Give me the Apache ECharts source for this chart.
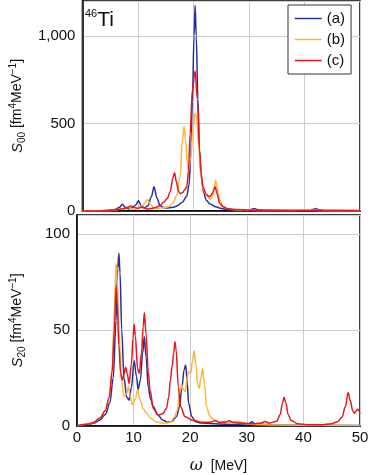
<!DOCTYPE html>
<html>
<head>
<meta charset="utf-8">
<script src="https://cdn.jsdelivr.net/npm/echarts@6/dist/echarts.min.js"></script>
<style>
  html, body { margin: 0; padding: 0; background: #fff; }
  #chart { width: 374px; height: 475px; }
</style>
</head>
<body>
<div id="chart"></div>
<script>
// omega [MeV], S00 [fm^4 MeV^-1]
var s00_a = [[0,0],[3,1],[5,4],[6,10],[6.7,22],[7.2,38],[7.7,22],[8.3,12],[9,18],[9.6,35],[10.1,58],[10.6,30],[11.2,18],[11.8,30],[12.4,80],[12.9,138],[13.4,75],[14,30],[14.8,18],[15.5,17],[16.4,22],[17.2,32],[18,50],[18.8,85],[19.2,150],[19.5,300],[19.8,620],[20.1,1000],[20.3,1175],[20.5,1000],[20.8,640],[21.1,340],[21.4,195],[21.8,110],[22.3,62],[23,40],[24,24],[25,14],[26,9],[28,5],[30,5],[30.5,10],[30.9,15],[31.4,8],[33,4],[36,3],[40,4],[41.5,8],[42,14],[42.5,7],[44,3],[50,2]];
var s00_b = [[0,0],[4,1],[6,6],[7,14],[7.6,12],[8.2,22],[8.8,12],[9.5,10],[10.2,20],[10.8,30],[11.3,48],[11.7,66],[12.2,40],[12.8,20],[13.5,15],[14.5,18],[15.5,25],[16.3,45],[17,90],[17.6,200],[18,400],[18.3,483],[18.6,400],[18.9,270],[19.1,235],[19.5,300],[19.9,470],[20.3,560],[20.6,530],[20.9,380],[21.3,210],[21.8,120],[22.4,85],[23,68],[23.4,80],[23.7,130],[24,176],[24.3,130],[24.7,65],[25.3,30],[26,15],[27,9],[28.5,6],[29.1,9],[29.6,5],[32,3],[38,3],[40.3,6],[40.8,10],[41.3,5],[44,2],[50,2]];
var s00_c = [[0,0],[4,2],[6,6],[7,12],[7.5,15],[8.2,22],[8.8,28],[9.4,20],[10,15],[10.5,22],[11,18],[11.6,12],[12.4,14],[13.2,20],[14,32],[14.6,50],[15.3,72],[15.8,110],[16.3,190],[16.6,218],[16.9,170],[17.3,115],[17.6,100],[18,105],[18.4,120],[18.8,138],[19.1,230],[19.4,442],[19.8,690],[20.3,800],[20.7,640],[21.1,346],[21.4,210],[21.7,138],[22.3,95],[22.9,81],[23.4,100],[23.9,138],[24.3,95],[24.7,45],[25.3,25],[26,15],[27,10],[28,8],[30,5],[35,4],[40,3],[45,3],[50,3]];

// omega [MeV], S20 [fm^4 MeV^-1]
var s20_a = [[0,0],[2,0.8],[3,1.5],[4,3],[5,6],[5.8,12],[6.4,25],[6.9,55],[7.2,82],[7.4,90],[7.6,80],[7.9,50],[8.3,25],[8.8,15],[9.2,13.5],[9.6,20],[10.1,34],[10.5,26],[10.8,19],[11.2,24],[11.6,38],[11.9,46.5],[12.2,36],[12.6,20],[13,14],[13.5,10],[14.2,6],[15.2,3],[16,2],[16.8,2.5],[17.6,5],[18.1,10],[18.5,19],[18.9,29],[19.2,31.8],[19.5,22],[19.7,12],[20.3,4.8],[21,2.2],[22,1.5],[25,1],[28,0.8],[30.3,1.2],[30.9,2.2],[31.5,1],[35,0.5],[50,0.3]];
var s20_b = [[0,0],[2,1],[3,2],[4,4],[5,8],[5.7,15],[6.2,30],[6.6,60],[6.9,84.8],[7.1,78],[7.4,50],[7.8,25],[8.3,15.3],[8.8,17],[9.1,20.8],[9.4,15],[9.8,11],[10.3,14],[10.7,18.8],[11.1,14],[11.7,9],[12.3,6.8],[13,4],[14,2.2],[15,1.5],[16,1.5],[16.6,2.2],[17.2,4.5],[17.7,8],[18.2,18],[18.5,21.4],[18.8,19],[19.1,18],[19.5,26],[19.7,28.3],[20.1,27.6],[20.4,34],[20.7,39.2],[21,32],[21.3,22],[21.6,19.6],[21.9,25],[22.2,30],[22.5,22],[22.9,10],[23.4,5.5],[23.8,4],[24.5,3],[25,2],[26,2.5],[27,1.8],[28.5,2.5],[29.5,1.5],[31,0.8],[35,0.5],[50,0.3]];
var s20_c = [[0,0],[2,1],[3,2],[4,4],[5,8],[5.7,15],[6.2,28],[6.6,50],[6.9,73],[7.1,65],[7.4,42],[7.7,28],[8,24],[8.3,27],[8.6,30.6],[8.9,27],[9.2,22.2],[9.6,32],[9.9,46],[10.1,53],[10.3,47],[10.7,30],[11,27.4],[11.4,38],[11.7,52],[11.9,59],[12.2,48],[12.6,28],[12.9,18.8],[13.5,9],[14.4,5.7],[15.2,6.5],[15.8,9.2],[16.2,15],[16.5,24],[16.8,31],[17.1,38],[17.3,43.9],[17.5,40],[17.9,20.5],[18.3,10],[19.1,4.8],[20.5,3],[22,2],[23.5,2],[24.4,2.8],[25.2,1.8],[26.2,2],[26.9,2.8],[27.6,1.8],[29,1.5],[31,1.2],[32.5,1.5],[33.2,2.4],[34,1.5],[35.3,2.5],[35.9,6],[36.3,12],[36.6,15],[36.9,12],[37.3,6],[37.8,3],[39,1.2],[41,0.6],[43,0.6],[45,1.2],[46,2.2],[46.8,4.5],[47.4,10],[47.9,17.4],[48.3,13],[48.7,8],[49,6.6],[49.3,7.8],[49.6,8.7],[50,6.5]];

var seriesNames = ['(a)', '(b)', '(c)'];
var colors = ['#2b2f98', '#fdb43c', '#e8161f'];
var xTicks = [0, 10, 20, 30, 40, 50];

var chart = echarts.init(document.getElementById('chart'));

var fontFam = 'Liberation Sans';
var gridLine = { show: true, lineStyle: { color: '#cccccc', width: 1 } };
var frameLine = { show: true, onZero: false, lineStyle: { color: '#000', width: 1.5 } };

function yName(sub) {
    return '{s|S}{sub|' + sub + '} [fm{sup|4}MeV{sup|\u22121}]';
}
var nameRich = {
    s: { fontSize: 15, fontStyle: 'italic', fontFamily: fontFam, color: '#111' },
    sub: { fontSize: 10, fontFamily: fontFam, color: '#111', verticalAlign: 'bottom', lineHeight: 19 },
    sup: { fontSize: 10, fontFamily: fontFam, color: '#111', verticalAlign: 'top', lineHeight: 19 }
};

function makeSeries(data, i, axisIdx) {
    return {
        name: seriesNames[i],
        type: 'line',
        xAxisIndex: axisIdx,
        yAxisIndex: axisIdx,
        data: data,
        symbol: 'none',
        smooth: 0.35,
        smoothMonotone: 'x',
        lineStyle: { color: colors[i], width: 1.5 },
        itemStyle: { color: colors[i] },
        silent: true
    };
}

var option = {
    animation: false,
    backgroundColor: '#fff',
    textStyle: { fontFamily: fontFam },
    grid: [
        { left: 77, right: 14, top: 1, height: 210, show: true, borderColor: '#000', borderWidth: 1.5 },
        { left: 77, right: 14, top: 215, height: 211, show: true, borderColor: '#000', borderWidth: 1.5 }
    ],
    legend: {
        data: seriesNames,
        orient: 'vertical',
        left: 288,
        top: 5,
        padding: [6, 6, 6, 6],
        itemGap: 6,
        itemWidth: 27,
        itemHeight: 14,
        itemStyle: { opacity: 0 },
        lineStyle: { width: 1.5 },
        backgroundColor: '#fff',
        borderColor: '#333',
        borderWidth: 1,
        borderRadius: 0,
        textStyle: { fontSize: 15, color: '#111', fontFamily: fontFam }
    },
    graphic: [{
        type: 'text',
        left: 85,
        top: 8,
        style: {
            text: '{sup|46}{m|Ti}',
            rich: {
                sup: { fontSize: 11, fontFamily: fontFam, fill: '#111', verticalAlign: 'top', lineHeight: 24 },
                m: { fontSize: 21, fontFamily: fontFam, fill: '#111', lineHeight: 24 }
            }
        }
    }],
    xAxis: [
        {
            type: 'value', gridIndex: 0, min: 0, max: 50, interval: 10,
            axisLine: frameLine, axisTick: { show: false },
            axisLabel: { show: false }, splitLine: gridLine
        },
        {
            type: 'value', gridIndex: 1, min: 0, max: 50, interval: 10,
            axisLine: frameLine, axisTick: { show: false },
            axisLabel: {
                fontSize: 15, color: '#111', margin: 4,
                formatter: function (v) { return xTicks.indexOf(v) >= 0 ? String(v) : ''; }
            },
            splitLine: gridLine,
            name: '{w|\u03c9}  [MeV]',
            nameLocation: 'middle',
            nameGap: 32,
            nameTextStyle: {
                fontSize: 14, color: '#111', fontFamily: fontFam,
                rich: { w: { fontSize: 16, fontStyle: 'italic', fontFamily: 'DejaVu Serif', color: '#111' } }
            }
        }
    ],
    yAxis: [
        {
            type: 'value', gridIndex: 0, min: 0, max: 1200, interval: 500,
            axisLine: frameLine, axisTick: { show: false },
            axisLabel: {
                fontSize: 15, color: '#111', margin: 7, showMaxLabel: false,
                formatter: function (v) { return v >= 1000 ? echarts.format.addCommas(v) : String(v); }
            },
            splitLine: gridLine,
            name: yName('00'),
            nameLocation: 'middle',
            nameRotate: 90,
            nameGap: 50,
            nameTextStyle: { fontSize: 14, color: '#111', fontFamily: fontFam, rich: nameRich }
        },
        {
            type: 'value', gridIndex: 1, min: 0, max: 110, interval: 50,
            axisLine: frameLine, axisTick: { show: false },
            axisLabel: { fontSize: 15, color: '#111', margin: 7, showMaxLabel: false },
            splitLine: gridLine,
            name: yName('20'),
            nameLocation: 'middle',
            nameRotate: 90,
            nameGap: 50,
            nameTextStyle: { fontSize: 14, color: '#111', fontFamily: fontFam, rich: nameRich }
        }
    ],
    series: [
        makeSeries(s00_a, 0, 0),
        makeSeries(s00_b, 1, 0),
        makeSeries(s00_c, 2, 0),
        makeSeries(s20_a, 0, 1),
        makeSeries(s20_b, 1, 1),
        makeSeries(s20_c, 2, 1)
    ]
};

chart.setOption(option);
</script>
</body>
</html>
